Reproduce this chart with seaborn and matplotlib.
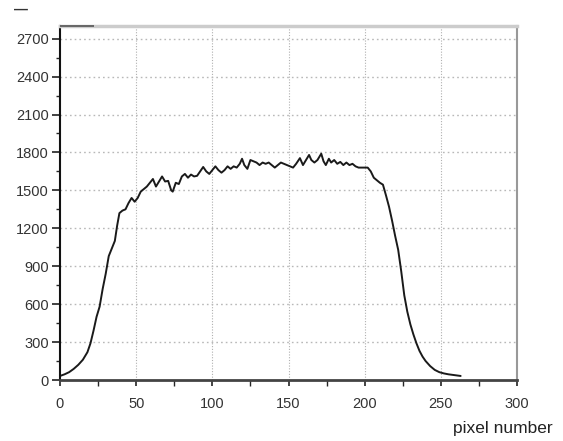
import matplotlib
matplotlib.use("Agg")
import matplotlib.pyplot as plt
from matplotlib.ticker import MultipleLocator
import pandas as pd
import seaborn as sns

# Intensity profile along the detector row
pixel = [0, 3, 6, 9, 12, 15, 18, 20, 22, 24, 26, 28, 30, 32, 34, 36, 37.5, 39,
         41, 43, 45, 47, 49, 51, 53, 55, 57, 59, 61, 63, 65, 67, 69, 71, 73, 74,
         76, 78, 80, 82, 84, 86, 88, 90, 92, 94, 96, 98, 100, 102, 104, 106,
         108, 110, 112, 114, 116, 118, 119.5, 121, 123, 125, 127, 129, 131, 133,
         135, 137, 139, 141, 143, 145, 147, 149, 151, 153, 155, 157.5, 159.5,
         161, 163.5, 165, 167, 169, 171.5, 173, 174.5, 176.5, 178, 180, 182,
         184, 186, 188, 190, 192, 194, 196, 198, 200, 202, 204, 206, 208, 210,
         212, 214, 216, 218, 220, 222, 224, 226, 228, 230, 232, 234, 236, 238,
         240, 243, 246, 249, 252, 255, 258, 261, 263]
counts = [32, 45, 62, 88, 120, 160, 220, 290, 390, 500, 580, 720, 840, 980,
          1040, 1100, 1220, 1320, 1340, 1350, 1400, 1440, 1410, 1440, 1490,
          1510, 1530, 1560, 1590, 1530, 1570, 1610, 1570, 1575, 1500, 1490,
          1560, 1550, 1610, 1630, 1600, 1625, 1610, 1615, 1650, 1685, 1650,
          1630, 1660, 1690, 1660, 1640, 1660, 1690, 1670, 1690, 1680, 1710,
          1750, 1700, 1670, 1740, 1730, 1720, 1700, 1720, 1710, 1720, 1700,
          1680, 1700, 1720, 1710, 1700, 1690, 1680, 1710, 1755, 1700, 1730,
          1780, 1740, 1720, 1740, 1790, 1730, 1700, 1750, 1720, 1740, 1710,
          1725, 1700, 1720, 1700, 1710, 1690, 1680, 1680, 1680, 1680, 1650,
          1600, 1580, 1560, 1545, 1460, 1370, 1260, 1140, 1030, 860, 670, 540,
          440, 360, 290, 230, 185, 150, 110, 80, 62, 52, 45, 40, 35, 32]

x_ticks = [0, 50, 100, 150, 200, 250, 300]
y_ticks = [0, 300, 600, 900, 1200, 1500, 1800, 2100, 2400, 2700]

sns.set_theme(style="white")
plt.rcParams["font.family"] = ["Liberation Sans", "DejaVu Sans"]

df = pd.DataFrame({"pixel": pixel, "counts": counts})

fig = plt.figure(figsize=(5.63, 4.41), dpi=100)
ax = fig.add_axes([60 / 563, 61 / 441, 457 / 563, 354 / 441])

sns.lineplot(data=df, x="pixel", y="counts", ax=ax, color="#1a1a1a",
             linewidth=1.4, sort=False)

ax.set_xlim(0, 300)
ax.set_ylim(0, 2800)
ax.set_xticks(x_ticks)
ax.set_yticks(y_ticks)
ax.xaxis.set_minor_locator(MultipleLocator(25))
ax.yaxis.set_minor_locator(MultipleLocator(150))

# dotted grid
for xv in x_ticks[1:-1]:
    ax.axvline(xv, color="#b0b0b0", lw=0.8, ls=(0, (1, 1.5)), zorder=0)
for yv in y_ticks[1:]:
    ax.axhline(yv, color="#b8b8b8", lw=1.0, ls=(0, (1.2, 2.2)), zorder=0)

ax.tick_params(axis="both", which="major", direction="out", labelsize=10.5,
               colors="#222222", labelcolor="#333333")
ax.tick_params(axis="y", which="major", length=6, width=1.2, left=True, pad=2)
ax.tick_params(axis="y", which="minor", length=3, width=1.0, left=True)
ax.tick_params(axis="x", which="major", length=4, width=1.2, bottom=True, pad=8)
ax.tick_params(axis="x", which="minor", length=4, width=1.0, bottom=True)

ax.spines["left"].set_color("#111111")
ax.spines["left"].set_linewidth(1.5)
ax.spines["bottom"].set_color("#444444")
ax.spines["bottom"].set_linewidth(2.0)
ax.spines["top"].set_color("#cccccc")
ax.spines["top"].set_linewidth(2.5)
ax.spines["right"].set_color("#999999")
ax.spines["right"].set_linewidth(1.5)
# darker short segment at the top-left corner of the frame
ax.plot([0, 22], [2800, 2800], color="#555555", lw=1.2, clip_on=False,
        solid_capstyle="butt", zorder=5)

ax.set_ylabel("")
ax.set_xlabel("pixel number", fontsize=12.5, color="#222222")
ax.xaxis.set_label_coords(1.079, -0.115)
ax.xaxis.label.set_horizontalalignment("right")

fig.text(21 / 563, 1 - 10 / 441, "\u2014", ha="center", va="center",
         fontsize=10, fontweight="bold", color="#333333")

fig.savefig("out.png", dpi=100)
